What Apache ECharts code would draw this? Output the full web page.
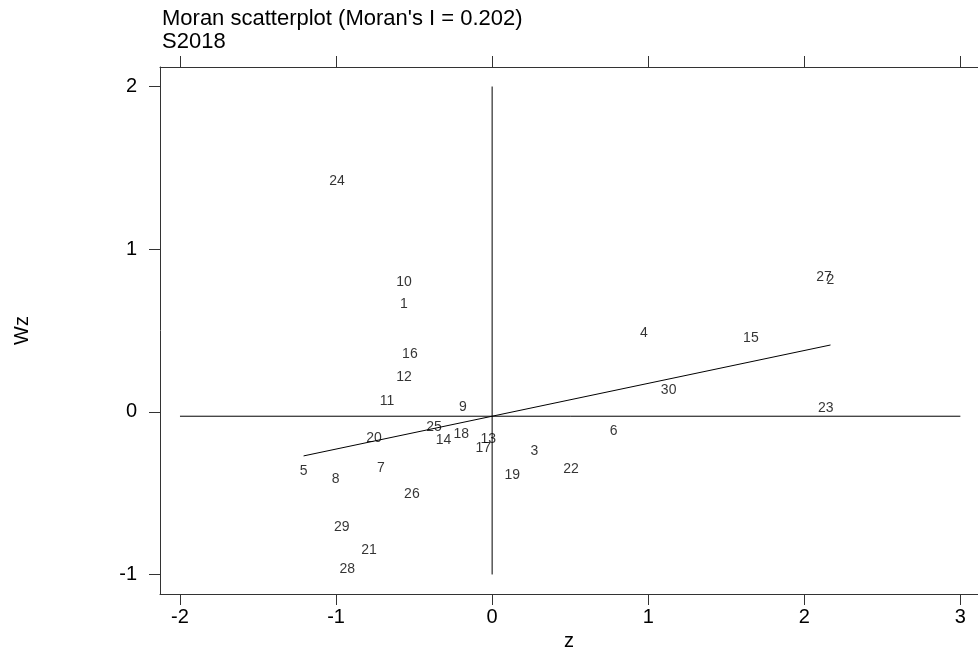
<!DOCTYPE html>
<html><head><meta charset="utf-8">
<script src="https://cdn.jsdelivr.net/npm/echarts@6/dist/echarts.min.js"></script>
<style>html,body{margin:0;padding:0;background:#fff}#c{width:978px;height:650px}</style>
</head><body><div id="c"></div>
<script>
// point ids (region numbers)
const ids = ['1','2','3','4','5','6','7','8','9','10','11','12','13','14','15','16','17','18','19','20','21','22','23','24','25','26','27','28','29','30'];
// standardized variable z
const zVals = [-0.565, 2.168, 0.270, 0.972, -1.208, 0.778, -0.712, -1.003, -0.187, -0.565,
               -0.674, -0.565, -0.025, -0.311, 1.658, -0.527, -0.057, -0.198, 0.129, -0.757,
               -0.789, 0.505, 2.138, -0.994, -0.373, -0.514, 2.126, -0.928, -0.964, 1.131];
// spatial lag Wz
const wzVals = [0.664, 0.810, -0.241, 0.485, -0.362, -0.119, -0.347, -0.414, 0.028, 0.798,
                0.065, 0.211, -0.168, -0.174, 0.455, 0.357, -0.225, -0.137, -0.388, -0.163,
                -0.853, -0.353, 0.020, 1.417, -0.096, -0.504, 0.830, -0.969, -0.712, 0.136];
const xTicks = [-2, -1, 0, 1, 2, 3];
const yTicks = [-1, 0, 1, 2];
const moranI = 0.202;          // slope of the regression line
const meanWz = -0.027;         // horizontal reference line
const meanZ = 0;               // vertical reference line
const hlineSpan = [-2, 3];
const vlineSpan = [-1, 2];

const zMin = Math.min(...zVals), zMax = Math.max(...zVals);
const intercept = meanWz - moranI * meanZ;
const regData = [[zMin, intercept + moranI * zMin], [zMax, intercept + moranI * zMax]];
const pts = zVals.map((z, i) => ({ name: ids[i], value: [z, wzVals[i]] }));

const FONT = 'Liberation Sans, Arial, Helvetica, sans-serif';
const AX = '#333';
const chart = echarts.init(document.getElementById('c'), null, { renderer: 'canvas' });
const lineStyle = { color: '#000', width: 1 };
chart.setOption({
  animation: false,
  backgroundColor: '#fff',
  title: {
    text: "Moran scatterplot (Moran's I = 0.202)\nS2018",
    left: 162, top: 7, padding: 0,
    textStyle: { fontFamily: FONT, fontSize: 22, fontWeight: 'normal', color: '#000', lineHeight: 23 }
  },
  grid: { left: 160, right: 0, top: 67, bottom: 56, containLabel: false, outerBoundsMode: 'none' },
  xAxis: [{
    type: 'value', position: 'bottom', min: -2.128, max: 3.113,
    name: 'z', nameLocation: 'middle', nameGap: 23,
    nameTextStyle: { fontFamily: FONT, fontSize: 20, color: '#000' },
    axisLine: { show: true, onZero: false, lineStyle: { color: AX, width: 1 } },
    axisTick: { show: true, inside: false, length: 11, customValues: xTicks, lineStyle: { color: AX } },
    axisLabel: { show: true, margin: 13, customValues: xTicks, fontFamily: FONT, fontSize: 20, color: '#000' },
    splitLine: { show: false }
  }, {
    type: 'value', position: 'top', min: -2.128, max: 3.113,
    axisLine: { show: true, onZero: false, lineStyle: { color: AX, width: 1 } },
    axisTick: { show: true, inside: false, length: 11, customValues: xTicks, lineStyle: { color: AX } },
    axisLabel: { show: false },
    splitLine: { show: false }
  }],
  yAxis: [{
    type: 'value', position: 'left', min: -1.12, max: 2.12,
    name: 'Wz', nameLocation: 'middle', nameGap: 128, nameRotate: 90,
    nameTextStyle: { fontFamily: FONT, fontSize: 20, color: '#000' },
    axisLine: { show: true, onZero: false, lineStyle: { color: AX, width: 1 } },
    axisTick: { show: true, inside: false, length: 11, customValues: yTicks, lineStyle: { color: AX } },
    axisLabel: { show: true, margin: 23, customValues: yTicks, fontFamily: FONT, fontSize: 20, color: '#000' },
    splitLine: { show: false }
  }],
  series: [
    { type: 'line', data: [[hlineSpan[0], meanWz], [hlineSpan[1], meanWz]], symbol: 'none', lineStyle, silent: true },
    { type: 'line', data: [[meanZ, vlineSpan[0]], [meanZ, vlineSpan[1]]], symbol: 'none', lineStyle, silent: true },
    { type: 'line', data: regData, symbol: 'none', lineStyle, silent: true },
    {
      type: 'scatter', data: pts, symbolSize: 1,
      itemStyle: { color: 'rgba(0,0,0,0)' },
      label: { show: true, position: 'inside', formatter: p => p.name,
               fontFamily: FONT, fontSize: 14, color: '#000' }
    }
  ]
});
</script></body></html>
